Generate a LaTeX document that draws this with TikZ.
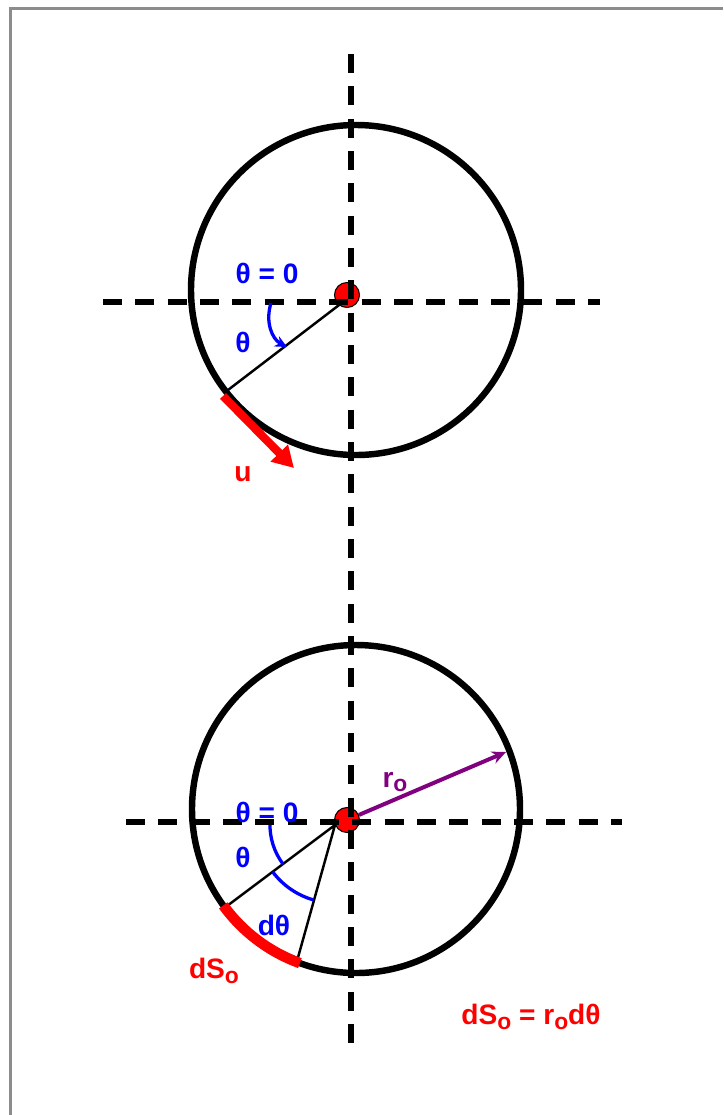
\documentclass[tikz,border=0pt]{standalone}
\usepackage{fontspec}
\setmainfont{Liberation Sans}
\usetikzlibrary{arrows.meta}
\definecolor{cR}{HTML}{FF0000}
\definecolor{cB}{HTML}{0000FF}
\definecolor{cP}{HTML}{800080}
\definecolor{frm}{HTML}{8C8C8C}
\newcommand{\lo}[1]{\raisebox{-0.17em}{\fontsize{19.5}{19.5}\selectfont #1}}

\begin{document}
\begin{tikzpicture}[x=0.03cm,y=-0.03cm,
  ax/.style={draw=black,line width=4.5pt,dash pattern=on 0.57cm off 0.4cm},
  rim/.style={draw=black,line width=5.5pt},
  rad/.style={draw=black,line width=2.1pt},
  cdot/.style={circle,fill=cR,draw=black,line width=0.9pt,minimum size=0.75cm,inner sep=0pt},
  lab/.style={font=\fontsize{24}{28}\selectfont\bfseries,inner sep=0pt},
  uarr/.style={-{Triangle[length=0.63cm,width=0.69cm]},draw=cR,line width=7pt},
  barr/.style={-{Stealth[length=0.36cm,width=0.34cm]},draw=cB,line width=2.8pt},
  parr/.style={-{Stealth[length=0.42cm,width=0.38cm]},draw=cP,line width=3.4pt},
  ang/.style={draw=cB,line width=2.8pt},
  sarc/.style={draw=cR,line width=9pt}]

% ---------- frame ----------
\useasboundingbox (0,0) rectangle (723,1115);
\draw[frm,line width=2.2pt] (723,8.5) -- (10.5,8.5) -- (10.5,1115);

% ---------- top circle: direction of u ----------
\draw[rim] (356,290) circle[radius=165];
\coordinate (v1) at (343,302);
\coordinate (p1) at (228,390);
\draw[rad] (v1) -- (p1);
\node[cdot] (o1) at (347,295) {};

% ---------- bottom circle: arc element ----------
\draw[rim] (356,809) circle[radius=164];
\coordinate (v2) at (335,825);
\coordinate (q1) at (227,906);
\coordinate (q2) at (297,961);
\draw[rad] (q1) -- (v2) -- (q2);
\draw[sarc] (223.3,905.4) arc[start angle=144,end angle=110,radius=164];
\draw[ang] (270,822.7) arc[start angle=182,end angle=143,radius=65];
\draw[ang] (272.7,871.9) arc[start angle=143,end angle=106,radius=78];
\node[cdot] (o2) at (347,820) {};

% ---------- axes ----------
\draw[ax] (351,54) -- (351,1048);
\draw[ax] (103,302) -- (600,302);
\draw[ax] (126,822) -- (622,822);

% ---------- arrows ----------
\coordinate (u0) at (223,396);
\coordinate (u1) at (294,468);
\draw[uarr] (u0) -- (u1);
\coordinate (a0) at (271,303);
\coordinate (a1) at (287,347);
\draw[barr] (a0) .. controls (265,322) and (272,339) .. (a1);
\coordinate (r2) at (506,752);
\draw[parr] (o2) -- (r2);

% ---------- labels ----------
\node[lab,text=cB] (t1) at (267,273) {θ = 0};
\node[lab,text=cB] (th1) at (243,342) {θ};
\node[lab,text=cR] (lu) at (243,474) {u};
\node[lab,text=cB] (t2) at (267,812) {θ = 0};
\node[lab,text=cB] (th2) at (243,857) {θ};
\node[lab,text=cB] (dth) at (274,925) {dθ};
\node[lab,text=cR] (ds) at (214,971) {dS\lo{o}};
\node[lab,text=cP] (lr) at (395,782) {r\lo{o}};
\node[lab,text=cR] (eq) at (531,1017) {dS\lo{o} = r\lo{o}dθ};
\end{tikzpicture}
\end{document}
